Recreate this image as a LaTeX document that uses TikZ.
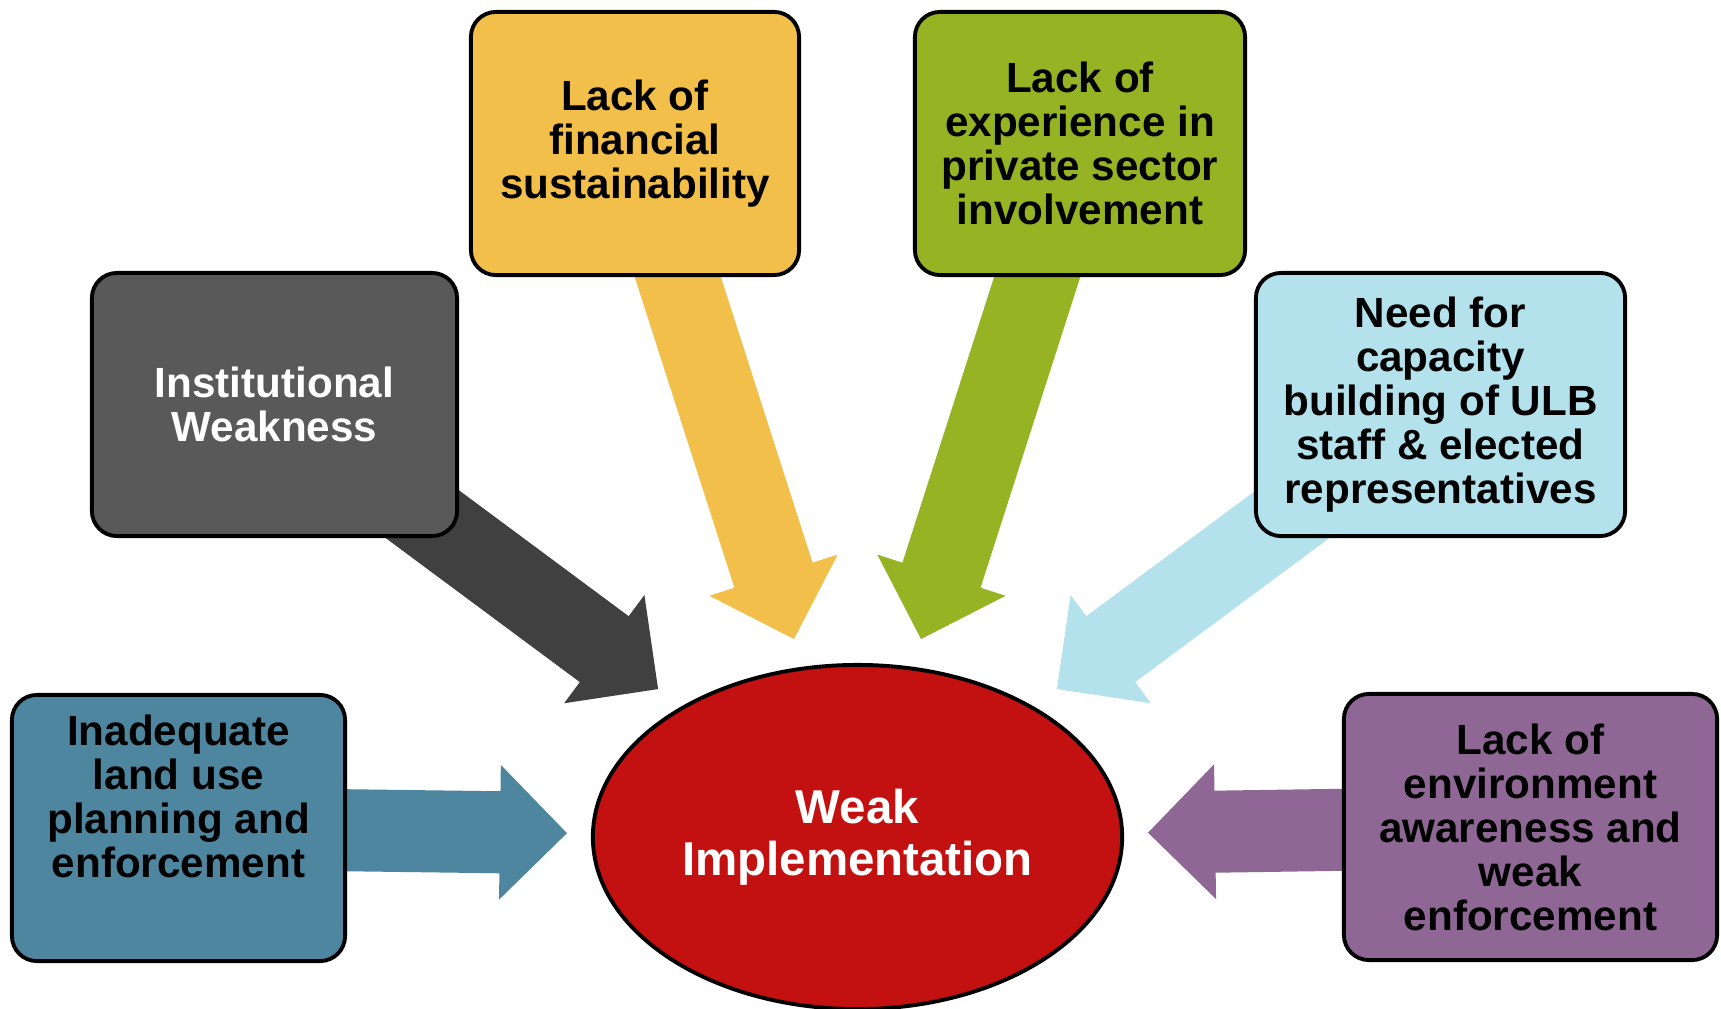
\documentclass[tikz,border=0pt]{standalone}
\usepackage{fontspec}
\setmainfont{Liberation Sans}
\usetikzlibrary{shapes.geometric,arrows.meta,backgrounds}

\definecolor{landblue}{RGB}{78,134,160}
\definecolor{instgrey}{RGB}{89,89,89}
\definecolor{instdark}{RGB}{64,64,64}
\definecolor{finyellow}{RGB}{242,191,74}
\definecolor{privgreen}{RGB}{149,179,35}
\definecolor{ulbblue}{RGB}{179,226,236}
\definecolor{envpurple}{RGB}{142,103,149}
\definecolor{weakred}{RGB}{195,16,16}

\begin{document}
\begin{tikzpicture}[x=0.01cm, y=-0.01cm,
    cause/.style={draw, line width=1.1pt, rounded corners=0.25cm, inner sep=0pt,
      minimum height=2.63cm, align=center,
      font=\bfseries\fontsize{12pt}{12.5pt}\selectfont},
    fat/.style={line width=0.82cm, shorten >=0.29cm,
      -{Triangle[width=1.34cm, length=0.67cm, line width=1pt]}}]
      \useasboundingbox (0,0) rectangle (1721,1009);

      % Draw the ellipse in the middle
      \node[ellipse, draw, line width=1.1pt, fill=weakred, text=white,
        minimum width=5.29cm, minimum height=3.44cm, inner sep=0pt, align=center,
        font=\bfseries\fontsize{13.5pt}{14.7pt}\selectfont] (weak) at (857.5,837)
        {Weak\\Implementation};

      % Draw the boxes around it
      \node[cause, fill=landblue, minimum width=3.33cm, minimum height=2.66cm] (landuse) at (178.5,828)
        {Inadequate\\land use\\planning and\\enforcement\\[0.2cm]\mbox{}};
      \node[cause, fill=instgrey, text=white, minimum width=3.65cm] (inst) at (274.5,404.5)
        {Institutional\\Weakness};
      \node[cause, fill=finyellow, minimum width=3.28cm] (fin) at (635,143.5)
        {Lack of\\financial\\sustainability};
      \node[cause, fill=privgreen, minimum width=3.30cm] (priv) at (1080,143.5)
        {Lack of\\experience in\\private sector\\involvement};
      \node[cause, fill=ulbblue, minimum width=3.69cm] (ulb) at (1440.5,404.5)
        {Need for\\capacity\\building of ULB\\staff \& elected\\representatives};
      \node[cause, fill=envpurple, minimum width=3.73cm, minimum height=2.66cm] (env) at (1530.5,827)
        {Lack of\\environment\\awareness and\\weak\\enforcement};

      % Draw the arrows behind the boxes
      \begin{pgfonlayer}{background}
      \fill[white] (0,0) rectangle (1721,1009);
      \draw[fat, landblue, shorten >=0.24cm] (landuse.center) -- (weak);
      \draw[fat, instdark] (inst.center) -- (weak);
      \draw[fat, finyellow] (fin.center) -- (weak);
      \draw[fat, privgreen] (priv.center) -- (weak);
      \draw[fat, ulbblue] (ulb.center) -- (weak);
      \draw[fat, envpurple, shorten >=0.24cm] (env.center) -- (weak);
      \end{pgfonlayer}
    \end{tikzpicture}
\end{document}
